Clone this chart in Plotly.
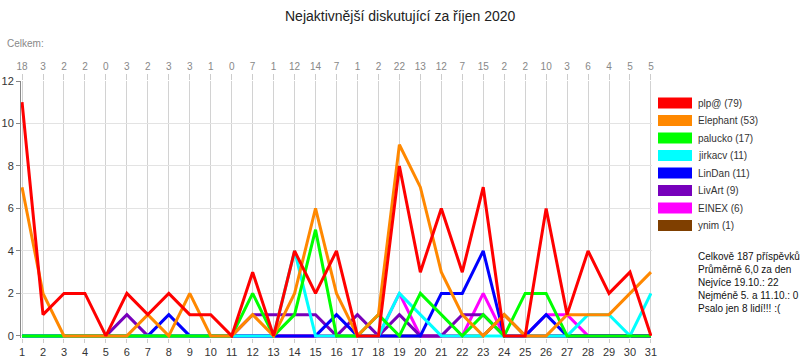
import plotly.graph_objects as go

days = list(range(1, 32))
totals = [18, 3, 2, 2, 0, 3, 2, 3, 3, 1, 0, 7, 1, 12, 14, 7, 1, 2, 22, 13, 12, 7, 15, 2, 2, 10, 3, 6, 4, 5, 5]

names = ["plp@", "Elephant", "palucko", "jirkacv", "LinDan", "LivArt", "EINEX", "ynim"]
colors = ["#ff0000", "#ff8800", "#00ff00", "#00ffff", "#0000ff", "#7700bb", "#ff00ff", "#7f3f00"]

plp = [11, 1, 2, 2, 0, 2, 1, 2, 1, 1, 0, 3, 0, 4, 2, 4, 0, 0, 8, 3, 6, 3, 7, 0, 0, 6, 1, 4, 2, 3, 0]
elephant = [7, 2, 0, 0, 0, 0, 1, 0, 2, 0, 0, 1, 0, 2, 6, 2, 0, 1, 9, 7, 3, 1, 0, 1, 0, 0, 1, 1, 1, 2, 3]
palucko = [0, 0, 0, 0, 0, 0, 0, 0, 0, 0, 0, 2, 0, 1, 5, 0, 0, 1, 0, 2, 1, 0, 1, 0, 2, 2, 0, 0, 0, 0, 0]
jirkacv = [0, 0, 0, 0, 0, 0, 0, 0, 0, 0, 0, 0, 0, 4, 0, 0, 0, 0, 2, 1, 0, 0, 0, 0, 0, 0, 0, 1, 1, 0, 2]
lindan = [0, 0, 0, 0, 0, 0, 0, 1, 0, 0, 0, 0, 0, 0, 0, 1, 0, 0, 0, 0, 2, 2, 4, 0, 0, 1, 0, 0, 0, 0, 0]
livart = [0, 0, 0, 0, 0, 1, 0, 0, 0, 0, 0, 1, 1, 1, 1, 0, 1, 0, 1, 0, 0, 1, 1, 0, 0, 0, 0, 0, 0, 0, 0]
einex = [0, 0, 0, 0, 0, 0, 0, 0, 0, 0, 0, 0, 0, 0, 0, 0, 0, 0, 2, 0, 0, 0, 2, 0, 0, 1, 1, 0, 0, 0, 0]
ynim = [0, 0, 0, 0, 0, 0, 0, 0, 0, 0, 0, 0, 0, 0, 0, 0, 0, 0, 0, 0, 0, 0, 0, 1, 0, 0, 0, 0, 0, 0, 0]
series = [plp, elephant, palucko, jirkacv, lindan, livart, einex, ynim]

title = "Nejaktivnější diskutující za říjen 2020"
stats = ["Celkově 187 příspěvků", "Průměrně 6,0 za den", "Nejvíce 19.10.: 22",
         "Nejméně 5. a 11.10.: 0", "Psalo jen 8 lidí!!! :("]

FONT = "Liberation Sans, Arial, sans-serif"
L, R, T, B = 21, 148, 81, 22
W = 800 - L - R
H = 360 - T - B


def px(x):
    return (x - L) / W


def py(y):
    return 1 - (y - T) / H


fig = go.Figure()
# draw in reverse so first series is on top
for name, col, vals in reversed(list(zip(names, colors, series))):
    fig.add_trace(go.Scatter(x=days, y=vals, mode="lines", name=name,
                             line=dict(color=col, width=3), showlegend=False))

# invisible trace for top axis with totals
fig.add_trace(go.Scatter(x=days, y=totals, xaxis="x2", mode="lines", opacity=0,
                         line=dict(width=0), showlegend=False, hoverinfo="skip"))

shapes = []
annotations = []
leg_y0 = 97.5
for i, (name, col, vals) in enumerate(zip(names, colors, series)):
    y0 = leg_y0 + i * 17.5
    shapes.append(dict(type="rect", xref="paper", yref="paper",
                       x0=px(658), x1=px(692), y0=py(y0), y1=py(y0 + 11),
                       fillcolor=col, line=dict(width=0)))
    annotations.append(dict(xref="paper", yref="paper", x=px(696), y=py(y0 + 5.5),
                            xanchor="left", yanchor="middle", showarrow=False,
                            text=f"{name} ({sum(vals)})",
                            font=dict(size=10, color="#333", family=FONT)))

for i, s in enumerate(stats):
    annotations.append(dict(xref="paper", yref="paper", x=px(696), y=py(256 + i * 13),
                            xanchor="left", yanchor="middle", showarrow=False, text=s,
                            font=dict(size=10, color="#111", family=FONT)))

annotations.append(dict(xref="paper", yref="paper", x=px(5), y=py(43),
                        xanchor="left", yanchor="middle", showarrow=False, text="Celkem:",
                        font=dict(size=10, color="#888", family=FONT)))
annotations.append(dict(xref="paper", yref="paper", x=px(400), y=py(16),
                        xanchor="center", yanchor="middle", showarrow=False, text=title,
                        font=dict(size=14, color="#222", family=FONT)))

fig.update_layout(
    width=800, height=360,
    margin=dict(l=L, r=R, t=T, b=B, autoexpand=False),
    paper_bgcolor="white", plot_bgcolor="white",
    font=dict(family=FONT, color="#333"),
    showlegend=False,
    shapes=shapes, annotations=annotations,
    xaxis=dict(range=[0.95, 31.05], tickmode="array", tickvals=days, automargin=False,
               ticktext=[str(d) for d in days], showgrid=True, gridcolor="#d2d2d2",
               gridwidth=1, zeroline=False, showline=False, ticks="outside",
               ticklen=4, tickcolor="#cccccc", tickfont=dict(size=11, color="#333")),
    xaxis2=dict(range=[0.95, 31.05], overlaying="x", side="top", tickmode="array",
                tickvals=days, ticktext=[str(t) for t in totals], showgrid=False,
                automargin=False,
                zeroline=False, showline=False, ticks="outside", ticklen=6,
                tickcolor="#cccccc", tickfont=dict(size=10, color="#888")),
    yaxis=dict(range=[-0.1, 12], tickmode="array", tickvals=[0, 2, 4, 6, 8, 10, 12],
               automargin=False,
               showgrid=True, gridcolor="#e3e3e3", zeroline=False, showline=True,
               linecolor="#888888", linewidth=1, ticks="outside", ticklen=4,
               tickcolor="#888888", tickfont=dict(size=11, color="#333")),
)

fig.write_html("out.html", config={"displayModeBar": False},
               post_script="document.body.style.margin='0';document.body.style.overflow='hidden';")
